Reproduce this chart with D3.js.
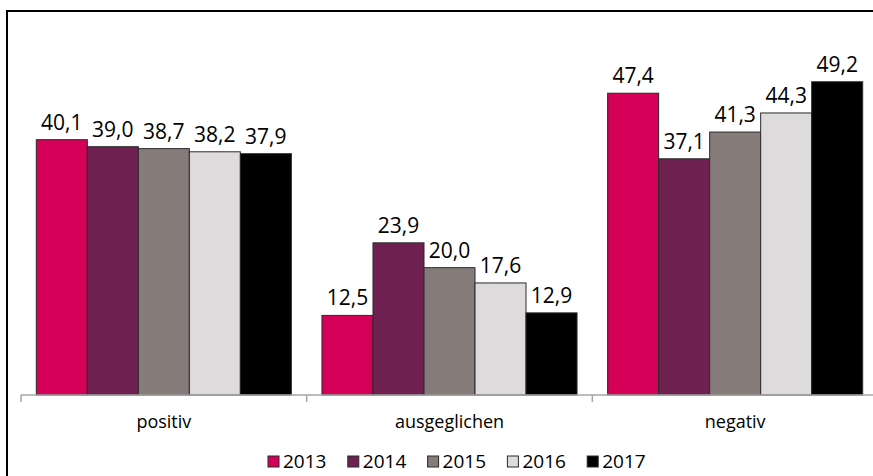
<!DOCTYPE html>
<html>
<head>
<meta charset="utf-8">
<script src="https://cdn.jsdelivr.net/npm/d3@7"></script>
<style>
  body { margin: 0; background: #fff; }
  text { font-family: "Open Sans", sans-serif; }
</style>
</head>
<body>
<div id="chart"></div>
<script>
// categories, series and values
var categories = ["positiv", "ausgeglichen", "negativ"];
var years = ["2013", "2014", "2015", "2016", "2017"];
var v2013 = [40.1, 12.5, 47.4];
var v2014 = [39.0, 23.9, 37.1];
var v2015 = [38.7, 20.0, 41.3];
var v2016 = [38.2, 17.6, 44.3];
var v2017 = [37.9, 12.9, 49.2];
var colors = ["#d50058", "#6e2150", "#857c79", "#dedbdc", "#000000"];

var series = [v2013, v2014, v2015, v2016, v2017];

var W = 873, H = 476;
var svg = d3.select("#chart").append("svg")
    .attr("width", W)
    .attr("height", H);

// outer frame (right and bottom edges fall outside the picture)
svg.append("rect")
    .attr("x", 7).attr("y", 11)
    .attr("width", 900).attr("height", 500)
    .attr("fill", "none")
    .attr("stroke", "#000")
    .attr("stroke-width", 2);

var x0 = d3.scaleBand()
    .domain(categories)
    .range([21, 878]);

var x1 = d3.scaleBand()
    .domain(years)
    .range([0, x0.bandwidth()])
    .paddingInner(0)
    .paddingOuter(0.3);

var y = d3.scaleLinear()
    .domain([0, 60])
    .range([395, 13]);

var color = d3.scaleOrdinal().domain(years).range(colors);

// flatten data into one row per bar
var rows = [];
categories.forEach(function (c, ci) {
    years.forEach(function (yr, yi) {
        rows.push({ cat: c, year: yr, value: series[yi][ci] });
    });
});

var fmt = function (v) { return d3.format(".1f")(v).replace(".", ","); };

svg.selectAll("rect.bar")
    .data(rows)
    .enter().append("rect")
    .attr("class", "bar")
    .attr("x", function (d) { return x0(d.cat) + x1(d.year); })
    .attr("y", function (d) { return y(d.value); })
    .attr("width", x1.bandwidth())
    .attr("height", function (d) { return y(0) - y(d.value); })
    .attr("fill", function (d) { return color(d.year); })
    .attr("stroke", "#2a2a2a")
    .attr("stroke-width", 1);

svg.selectAll("text.val")
    .data(rows)
    .enter().append("text")
    .attr("class", "val")
    .attr("x", function (d) { return x0(d.cat) + x1(d.year) + x1.bandwidth() / 2; })
    .attr("y", function (d) { return y(d.value) - 10; })
    .attr("text-anchor", "middle")
    .style("font-size", "21px")
    .style("fill", "#000")
    .text(function (d) { return fmt(d.value); });

// category axis
var axis = svg.append("g")
    .attr("transform", "translate(0," + y(0) + ")")
    .call(d3.axisBottom(x0).tickSize(0).tickPadding(20));
axis.select(".domain").attr("stroke", "#a6a6a6").attr("stroke-width", 1.5)
    .attr("d", "M21,0H878");
axis.selectAll(".tick text")
    .style("font-family", "'Open Sans', sans-serif")
    .style("font-size", "18px")
    .attr("fill", "#000");

// boundary tick marks between categories
var bounds = categories.map(function (c) { return x0(c); }).concat([x0.range()[1]]);
svg.selectAll("line.sep")
    .data(bounds)
    .enter().append("line")
    .attr("class", "sep")
    .attr("x1", function (d) { return d; })
    .attr("x2", function (d) { return d; })
    .attr("y1", y(0))
    .attr("y2", y(0) + 7)
    .attr("stroke", "#a6a6a6")
    .attr("stroke-width", 1.5);

// legend
var legend = svg.selectAll("g.leg")
    .data(years)
    .enter().append("g")
    .attr("class", "leg")
    .attr("transform", function (d, i) { return "translate(" + (268 + i * 79.8) + ",456)"; });

legend.append("rect")
    .attr("width", 11).attr("height", 11)
    .attr("fill", function (d) { return color(d); })
    .attr("stroke", "#2a2a2a")
    .attr("stroke-width", 1);

legend.append("text")
    .attr("x", 15)
    .attr("y", 12)
    .style("font-size", "19px")
    .text(function (d) { return d; });
</script>
</body>
</html>
